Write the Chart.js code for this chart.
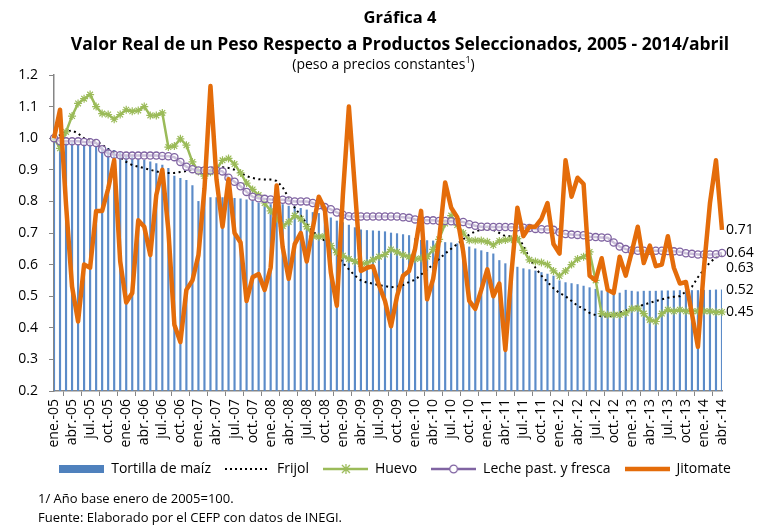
<!DOCTYPE html>
<html lang="es">
<head>
<meta charset="utf-8">
<title>Gráfica 4</title>
<script src="https://cdn.jsdelivr.net/npm/chart.js@4.4.1/dist/chart.umd.min.js"></script>
<style>
  body { margin: 0; background: #fff; font-family: 'Open Sans', sans-serif; }
  #wrap { position: relative; width: 767px; height: 530px; overflow: hidden; }
  #grafica { position: absolute; left: 0; top: 0; }
  .txt { position: absolute; color: #000; white-space: nowrap; }
  #t1 { left: 33px; width: 734px; top: 7px; line-height: 20px; text-align: center; font-weight: bold; font-size: 16.5px; }
  #t2 { left: 33px; width: 734px; top: 32px; line-height: 22px; text-align: center; font-weight: bold; font-size: 17.5px; }
  #t3 { left: 0; width: 767px; top: 55px; line-height: 18px; text-align: center; font-size: 14px; }
  #t3 sup { font-size: 9px; line-height: 0; }
  #n1 { left: 38px; top: 490px; line-height: 17px; font-size: 13px; }
  #n2 { left: 38px; top: 509px; line-height: 17px; font-size: 13px; }
</style>
</head>
<body>
<div id="wrap">
  <canvas id="grafica" width="767" height="530"></canvas>
  <div class="txt" id="t1">Gráfica 4</div>
  <div class="txt" id="t2">Valor Real de un Peso Respecto a Productos Seleccionados, 2005 - 2014/abril</div>
  <div class="txt" id="t3">(peso a precios constantes<sup>1</sup>)</div>
  <div class="txt" id="n1">1/ Año base enero de 2005=100.</div>
  <div class="txt" id="n2">Fuente: Elaborado por el CEFP con datos de INEGI.</div>
</div>
<script>
// meses y años para armar las etiquetas del eje x (ene.-05 ... abr.-14)
const meses = ['ene.', 'feb.', 'mar.', 'abr.', 'may.', 'jun.', 'jul.', 'ago.', 'sep.', 'oct.', 'nov.', 'dic.'];
const anios = ['05', '06', '07', '08', '09', '10', '11', '12', '13', '14'];

// valores, un renglon por año
const tortilla = [
  1.00, 0.99, 0.985, 0.985, 0.98, 0.98, 0.98, 0.975, 0.97, 0.968, 0.962, 0.955,
  0.945, 0.94, 0.935, 0.93, 0.925, 0.92, 0.915, 0.905, 0.88, 0.873, 0.867, 0.85,
  0.80, 0.812, 0.812, 0.812, 0.812, 0.81, 0.81, 0.808, 0.805, 0.80, 0.795, 0.79,
  0.79, 0.79, 0.79, 0.785, 0.783, 0.778, 0.773, 0.765, 0.762, 0.758, 0.748, 0.738,
  0.733, 0.725, 0.717, 0.71, 0.708, 0.707, 0.706, 0.704, 0.70, 0.698, 0.695, 0.692,
  0.683, 0.677, 0.676, 0.675, 0.671, 0.67, 0.669, 0.666, 0.664, 0.656, 0.65, 0.644,
  0.639, 0.634, 0.613, 0.603, 0.597, 0.592, 0.587, 0.584, 0.58, 0.575, 0.57, 0.564,
  0.549, 0.543, 0.54, 0.537, 0.532, 0.527, 0.522, 0.517, 0.513, 0.51, 0.51, 0.519,
  0.516, 0.514, 0.516, 0.516, 0.516, 0.517, 0.517, 0.517, 0.518, 0.518, 0.518, 0.518,
  0.519, 0.519, 0.52, 0.52
];
const frijol = [
  1.00, 1.01, 1.02, 1.025, 1.015, 1.00, 0.995, 0.99, 0.98, 0.965, 0.955, 0.94,
  0.925, 0.915, 0.91, 0.905, 0.90, 0.895, 0.89, 0.89, 0.89, 0.893, 0.896, 0.90,
  0.903, 0.906, 0.906, 0.907, 0.908, 0.906, 0.90, 0.89, 0.88, 0.874, 0.87, 0.869,
  0.869, 0.865, 0.845, 0.81, 0.78, 0.755, 0.73, 0.705, 0.69, 0.675, 0.66, 0.635,
  0.605, 0.585, 0.565, 0.55, 0.543, 0.54, 0.535, 0.532, 0.528, 0.53, 0.535, 0.545,
  0.552, 0.568, 0.585, 0.60, 0.618, 0.635, 0.65, 0.665, 0.68, 0.695, 0.705, 0.71,
  0.714, 0.71, 0.70, 0.69, 0.69, 0.69, 0.66, 0.62, 0.59, 0.565, 0.545, 0.525,
  0.51, 0.50, 0.485, 0.47, 0.46, 0.447, 0.44, 0.436, 0.436, 0.44, 0.447, 0.455,
  0.462, 0.468, 0.473, 0.479, 0.485, 0.49, 0.495, 0.498, 0.50, 0.515, 0.53, 0.56,
  0.585, 0.607, 0.623, 0.63
];
const huevo = [
  1.00, 0.968, 1.02, 1.07, 1.11, 1.125, 1.138, 1.10, 1.078, 1.075, 1.06, 1.075,
  1.09, 1.085, 1.088, 1.10, 1.072, 1.072, 1.08, 0.972, 0.975, 0.998, 0.978, 0.925,
  0.895, 0.88, 0.892, 0.902, 0.93, 0.936, 0.918, 0.89, 0.858, 0.838, 0.82, 0.795,
  0.77, 0.745, 0.722, 0.735, 0.755, 0.745, 0.72, 0.69, 0.688, 0.69, 0.66, 0.638,
  0.628, 0.618, 0.61, 0.602, 0.605, 0.615, 0.625, 0.632, 0.648, 0.64, 0.63, 0.625,
  0.618, 0.62, 0.625, 0.648, 0.68, 0.73, 0.755, 0.725, 0.70, 0.677, 0.676, 0.676,
  0.672, 0.662, 0.675, 0.678, 0.68, 0.682, 0.645, 0.615, 0.61, 0.607, 0.60, 0.58,
  0.564, 0.58, 0.60, 0.618, 0.625, 0.64, 0.55, 0.445, 0.441, 0.441, 0.441, 0.447,
  0.46, 0.462, 0.445, 0.425, 0.42, 0.445, 0.457, 0.452, 0.457, 0.452, 0.452, 0.452,
  0.452, 0.452, 0.449, 0.45
];
const leche = [
  1.00, 0.99, 0.99, 0.99, 0.99, 0.988, 0.987, 0.985, 0.965, 0.952, 0.948, 0.946,
  0.945, 0.945, 0.945, 0.945, 0.945, 0.945, 0.944, 0.943, 0.94, 0.925, 0.91, 0.902,
  0.898, 0.898, 0.898, 0.898, 0.895, 0.875, 0.862, 0.848, 0.83, 0.815, 0.81, 0.808,
  0.806, 0.805, 0.805, 0.803, 0.80, 0.80, 0.80, 0.795, 0.788, 0.782, 0.775, 0.765,
  0.758, 0.753, 0.752, 0.752, 0.752, 0.752, 0.752, 0.752, 0.752, 0.752, 0.75, 0.748,
  0.743, 0.74, 0.74, 0.74, 0.738, 0.738, 0.737, 0.736, 0.735, 0.728, 0.723, 0.72,
  0.72, 0.719, 0.719, 0.719, 0.718, 0.718, 0.717, 0.716, 0.713, 0.712, 0.711, 0.71,
  0.702, 0.697, 0.695, 0.694, 0.693, 0.688, 0.687, 0.686, 0.685, 0.67, 0.657, 0.649,
  0.645, 0.644, 0.644, 0.644, 0.644, 0.644, 0.643, 0.642, 0.641, 0.636, 0.634, 0.632,
  0.632, 0.632, 0.633, 0.637
];
const jitomate = [
  1.00, 1.09, 0.79, 0.53, 0.42, 0.60, 0.59, 0.77, 0.77, 0.84, 0.93, 0.61,
  0.48, 0.51, 0.74, 0.72, 0.63, 0.82, 0.90, 0.71, 0.41, 0.355, 0.52, 0.55,
  0.63, 0.84, 1.165, 0.87, 0.72, 0.87, 0.70, 0.67, 0.485, 0.56, 0.57, 0.52,
  0.59, 0.85, 0.655, 0.555, 0.665, 0.70, 0.61, 0.715, 0.815, 0.775, 0.575, 0.47,
  0.82, 1.10, 0.84, 0.58, 0.59, 0.595, 0.535, 0.485, 0.405, 0.50, 0.565, 0.58,
  0.65, 0.77, 0.49, 0.555, 0.68, 0.86, 0.78, 0.75, 0.64, 0.485, 0.46, 0.52,
  0.585, 0.50, 0.54, 0.33, 0.57, 0.78, 0.69, 0.72, 0.72, 0.745, 0.795, 0.665,
  0.635, 0.93, 0.815, 0.875, 0.855, 0.565, 0.55, 0.62, 0.52, 0.51, 0.625, 0.565,
  0.64, 0.72, 0.605, 0.66, 0.595, 0.60, 0.69, 0.59, 0.54, 0.545, 0.445, 0.34,
  0.59, 0.795, 0.93, 0.71
];

// etiquetas: solo hay datos hasta abril de 2014
const etiquetas = [];
anios.forEach(function (a) {
  meses.forEach(function (m) {
    if (etiquetas.length < tortilla.length) etiquetas.push(m + '-' + a);
  });
});

const fuente = "'Open Sans', sans-serif";
Chart.defaults.font.family = fuente;
Chart.defaults.color = '#000';

// muestra de cada serie para la leyenda, como en excel (linea con marcador)
function muestra(tipo, color) {
  const c = document.createElement('canvas');
  c.width = 45; c.height = 12;
  const g = c.getContext('2d');
  g.strokeStyle = color; g.fillStyle = color;
  if (tipo == 'barra') {
    g.fillRect(0, 2, 45, 8);
  } else if (tipo == 'punteada') {
    g.lineWidth = 2; g.setLineDash([2, 3]);
    g.beginPath(); g.moveTo(0, 6); g.lineTo(45, 6); g.stroke();
  } else {
    g.lineWidth = tipo == 'gruesa' ? 4.5 : 2.5;
    g.beginPath(); g.moveTo(0, 6); g.lineTo(45, 6); g.stroke();
    g.lineWidth = 1.3;
    if (tipo == 'estrella') {
      g.beginPath();
      g.moveTo(19, 2); g.lineTo(27, 10); g.moveTo(27, 2); g.lineTo(19, 10);
      g.moveTo(23, 1); g.lineTo(23, 11);
      g.stroke();
    } else if (tipo == 'circulo') {
      g.fillStyle = '#fff';
      g.beginPath(); g.arc(22.5, 6, 3.8, 0, Math.PI * 2); g.fill(); g.stroke();
    }
  }
  return c;
}

// etiquetas con el ultimo valor de cada serie, a la derecha
const valoresFinales = {
  id: 'valoresFinales',
  afterDatasetsDraw(chart) {
    const ctx = chart.ctx;
    const escalaY = chart.scales.y;
    ctx.save();
    ctx.font = '14px ' + fuente;
    ctx.fillStyle = '#000';
    ctx.textBaseline = 'middle';
    chart.data.datasets.forEach(function (ds) {
      const v = ds.data[ds.data.length - 1];
      ctx.fillText(v.toFixed(2), chart.chartArea.right + 4, escalaY.getPixelForValue(v) + (ds.desfase || 0));
    });
    ctx.restore();
  }
};

// recorre la leyenda un poco a la derecha (en el original esta centrada en la hoja)
const moverLeyenda = {
  id: 'moverLeyenda',
  afterLayout(chart) {
    chart.legend.left += 27;
    chart.legend.right += 27;
  }
};

const config = {
  type: 'bar',
  data: {
    labels: etiquetas,
    datasets: [
      { type: 'bar', label: 'Tortilla de maíz', data: tortilla, backgroundColor: '#5B8BC8',
        barThickness: 1.5, order: 5, muestra: muestra('barra', '#4F81BD') },
      { type: 'line', label: 'Frijol', data: frijol, borderColor: '#000', borderWidth: 2,
        borderDash: [2, 3.5], pointRadius: 0, tension: 0, order: 4, desfase: 13,
        muestra: muestra('punteada', '#000') },
      { type: 'line', label: 'Huevo', data: huevo, borderColor: '#9BBB59', borderWidth: 2.5,
        pointStyle: 'star', pointRadius: 4, pointBorderColor: '#9BBB59', pointBorderWidth: 1.2,
        tension: 0, order: 3, muestra: muestra('estrella', '#9BBB59') },
      { type: 'line', label: 'Leche past. y fresca', data: leche, borderColor: '#8064A2', borderWidth: 2.5,
        pointStyle: 'circle', pointRadius: 3.6, pointBorderColor: '#8064A2', pointBorderWidth: 1.3,
        pointBackgroundColor: 'rgba(255,255,255,0.6)', tension: 0, order: 2,
        muestra: muestra('circulo', '#8064A2') },
      { type: 'line', label: 'Jitomate', data: jitomate, borderColor: '#E46C0A', borderWidth: 4.5,
        pointRadius: 0, tension: 0, order: 1, borderJoinStyle: 'round',
        muestra: muestra('gruesa', '#E46C0A') }
    ]
  },
  options: {
    responsive: false,
    animation: false,
    devicePixelRatio: 1,
    layout: { padding: { left: 14, right: 45, top: 75, bottom: 44 } },
    scales: {
      x: {
        offset: false,
        grid: { display: true, drawOnChartArea: false, drawTicks: true, tickLength: 5, color: '#868686' },
        border: { color: '#868686', width: 1.5 },
        ticks: {
          autoSkip: false, minRotation: 90, maxRotation: 90, padding: 3,
          font: { size: 14 },
          callback: function (v, i) { return i % 3 == 0 ? etiquetas[i] : null; }
        },
        afterFit: function (s) { s.height = 57; }
      },
      y: {
        min: 0.2, max: 1.2,
        grid: { drawOnChartArea: false, tickLength: 5, color: '#868686' },
        border: { color: '#868686', width: 1.5 },
        ticks: { stepSize: 0.1, padding: 11, font: { size: 14 },
          callback: function (v) { return v.toFixed(1); } },
        afterFit: function (s) { s.width = 40; }
      }
    },
    plugins: {
      tooltip: { enabled: false },
      legend: {
        position: 'bottom',
        labels: {
          usePointStyle: true, pointStyleWidth: 45, padding: 14,
          font: { size: 14 }, color: '#000',
          generateLabels: function (chart) {
            return chart.data.datasets.map(function (ds, i) {
              return { text: ds.label, pointStyle: ds.muestra, datasetIndex: i,
                hidden: false, lineWidth: 0, strokeStyle: 'rgba(0,0,0,0)', fillStyle: 'rgba(0,0,0,0)' };
            });
          }
        }
      }
    }
  },
  plugins: [valoresFinales, moverLeyenda]
};

var grafica = new Chart(document.getElementById('grafica'), config);
</script>
</body>
</html>
